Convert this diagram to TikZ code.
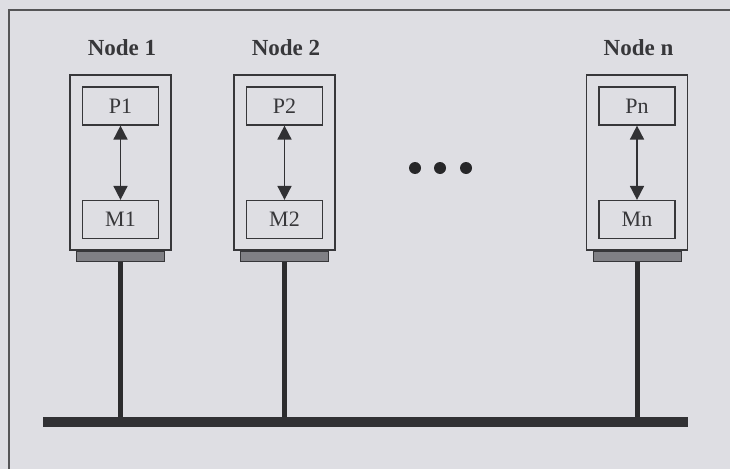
\documentclass[tikz,border=0pt]{standalone}
\usepackage{fontspec}
\setmainfont{Liberation Serif}
\usetikzlibrary{arrows.meta}
\definecolor{bgc}{RGB}{222,222,227}
\definecolor{ink}{RGB}{55,55,58}
\definecolor{barfill}{RGB}{128,128,133}
\tikzset{
  outerbox/.style={draw=ink, line width=1.3pt, minimum width=101pt, minimum height=175pt, inner sep=0pt},
  innerbox/.style={draw=ink, line width=1.2pt, minimum width=76pt, minimum height=38pt, inner sep=0pt, font=\fontsize{22}{24}\selectfont, text=ink},
  hatchbar/.style={draw=ink, fill=barfill, line width=1pt, minimum width=88pt, minimum height=10pt, inner sep=0pt},
  nodelabel/.style={font=\fontsize{23}{25}\selectfont\bfseries, text=ink, inner sep=0pt},
  linkarrow/.style={ink!90!black, line width=1.7pt, {Triangle[width=14pt,length=14pt]}-{Triangle[width=14pt,length=14pt]}},
  stub/.style={ink!80!black, line width=5pt},
  dot/.style={circle, fill=ink!70!black, minimum size=12pt, inner sep=0pt},
}
\begin{document}
\begin{tikzpicture}[x=1pt,y=-1pt]
\useasboundingbox (0,0) rectangle (730,468);
\fill[bgc] (-5,-5) rectangle (740,475);
% frame
\draw[ink!85, line width=1.6pt] (9,480) -- (9,10) -- (745,10);
% bus
\node[fill=ink!90!black, minimum width=645pt, minimum height=10pt, inner sep=0pt] (bus) at (365.5,422) {};
% nodes
\foreach \id/\cx/\lab/\p/\m in {1/120.5/Node 1/P1/M1, 2/284.5/Node 2/P2/M2, n/637/Node n/Pn/Mn}{
  \node[nodelabel] (lab\id) at (\cx+1.5,48) {\lab};
  \node[outerbox] (o\id) at (\cx,162.5) {};
  \node[innerbox] (p\id) at (\cx,106) {\p};
  \node[innerbox] (m\id) at (\cx,219.5) {\m};
  \draw[linkarrow] (p\id.south) -- (m\id.north);
  \node[hatchbar] (b\id) at (\cx,256) {};
  \draw[stub] (b\id.south) -- (b\id.south |- bus.north);
}
% ellipsis dots
\node[dot] (d1) at (415,168) {};
\node[dot] (d2) at (440,168) {};
\node[dot] (d3) at (466,168) {};
\end{tikzpicture}
\end{document}
